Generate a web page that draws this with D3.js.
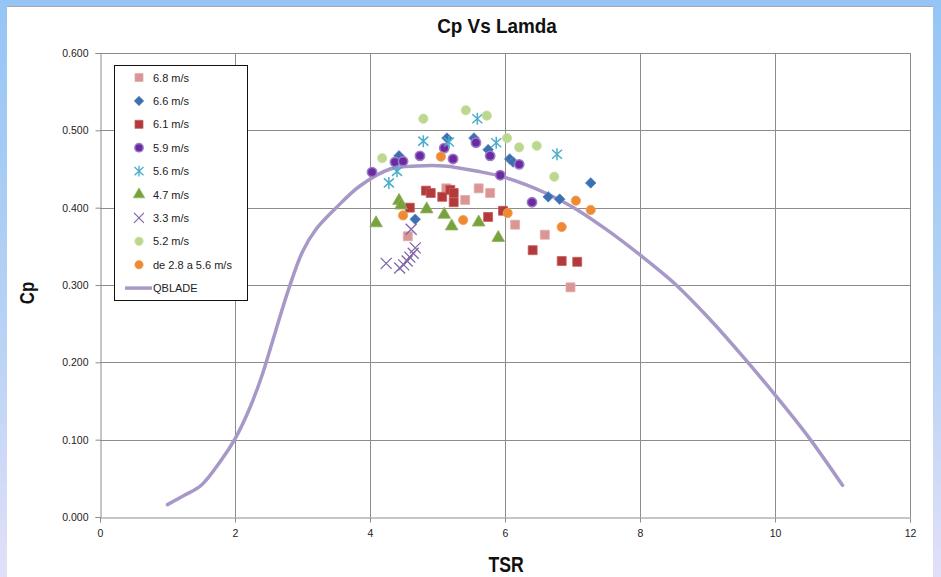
<!DOCTYPE html>
<html>
<head>
<meta charset="utf-8">
<script src="https://cdn.jsdelivr.net/npm/d3@7"></script>
<style>
  html, body { margin: 0; padding: 0; background: #fff; }
  svg { display: block; }
</style>
</head>
<body>
<svg id="chart" width="941" height="577"></svg>
<script>
// Measured Cp against tip-speed ratio for each wind speed
const ws68Tsr = [4.56, 5.13, 5.41, 5.61, 5.78, 6.15, 6.59, 6.97];
const ws68Cp  = [0.363, 0.425, 0.410, 0.425, 0.419, 0.378, 0.365, 0.297];

const ws66Tsr = [4.43, 5.14, 5.54, 5.75, 6.07, 6.12, 4.67, 6.64, 6.81, 7.27];
const ws66Cp  = [0.467, 0.490, 0.490, 0.475, 0.463, 0.459, 0.385, 0.414, 0.411, 0.432];

const ws61Tsr = [4.83, 4.90, 5.07, 5.19, 5.24, 5.24, 4.59, 5.75, 5.97, 6.41, 6.84, 7.07];
const ws61Cp  = [0.422, 0.419, 0.414, 0.423, 0.419, 0.407, 0.400, 0.388, 0.396, 0.345, 0.331, 0.330];

const ws59Tsr = [4.03, 4.37, 4.49, 4.74, 5.10, 5.23, 5.57, 5.78, 6.21, 5.93, 6.40];
const ws59Cp  = [0.446, 0.459, 0.460, 0.467, 0.477, 0.463, 0.484, 0.467, 0.456, 0.442, 0.407];

const ws56Tsr = [4.28, 4.40, 4.79, 5.17, 5.59, 5.87, 6.77];
const ws56Cp  = [0.432, 0.447, 0.486, 0.485, 0.515, 0.484, 0.469];

const ws47Tsr = [4.09, 4.43, 4.46, 4.84, 5.10, 5.21, 5.61, 5.90];
const ws47Cp  = [0.380, 0.409, 0.403, 0.398, 0.391, 0.376, 0.381, 0.361];

const ws33Tsr = [4.24, 4.44, 4.50, 4.55, 4.59, 4.64, 4.67, 4.61];
const ws33Cp  = [0.328, 0.322, 0.326, 0.331, 0.336, 0.341, 0.348, 0.372];

const ws52Tsr = [4.18, 4.79, 5.42, 5.73, 6.03, 6.21, 6.47, 6.73];
const ws52Cp  = [0.464, 0.515, 0.526, 0.519, 0.490, 0.478, 0.480, 0.440];

const wsRangeTsr = [4.49, 5.05, 5.38, 6.04, 6.84, 7.05, 7.27];
const wsRangeCp  = [0.390, 0.466, 0.384, 0.393, 0.375, 0.409, 0.397];

// QBlade simulated curve
const qbladeTsr = [1.0, 1.25, 1.5, 1.8, 2.0, 2.2, 2.4, 2.6, 2.8, 3.0, 3.2, 3.5, 3.85, 4.3, 4.7, 5.1, 5.6, 6.0, 6.6, 7.0, 7.5, 8.0, 8.5, 9.0, 9.5, 10.0, 10.5, 11.0];
const qbladeCp  = [0.016, 0.028, 0.041, 0.074, 0.101, 0.137, 0.183, 0.240, 0.296, 0.343, 0.372, 0.400, 0.428, 0.450, 0.454, 0.454, 0.447, 0.439, 0.419, 0.401, 0.372, 0.339, 0.303, 0.259, 0.210, 0.158, 0.103, 0.041];

// Axis ticks
const xTicks = [0, 2, 4, 6, 8, 10, 12];
const yTicks = [0, 0.1, 0.2, 0.3, 0.4, 0.5, 0.6];

const seriesNames = ["6.8 m/s", "6.6 m/s", "6.1 m/s", "5.9 m/s", "5.6 m/s", "4.7 m/s", "3.3 m/s", "5.2 m/s", "de 2.8 a 5.6 m/s"];

const svg = d3.select("#chart");
const W = 941, H = 577;
const plain = "'Liberation Sans', Arial, sans-serif";

// Window frame: light blue border with white panel
const defs = svg.append("defs");
const grad = defs.append("linearGradient").attr("id", "edge").attr("x1", 0).attr("y1", 0).attr("x2", 0).attr("y2", 1);
grad.append("stop").attr("offset", "0%").attr("stop-color", "#95c5f5");
grad.append("stop").attr("offset", "60%").attr("stop-color", "#b9d3f5");
grad.append("stop").attr("offset", "100%").attr("stop-color", "#e2e0f8");
svg.append("rect").attr("width", W).attr("height", H).attr("fill", "url(#edge)");
svg.append("rect").attr("x", 0).attr("y", 0).attr("width", W).attr("height", 6).attr("fill", "#95c5f5");
svg.append("rect").attr("x", 7).attr("y", 6).attr("width", 926).attr("height", H - 6).attr("fill", "#ffffff");
svg.append("line").attr("x1", 7).attr("x2", 933).attr("y1", 6.5).attr("y2", 6.5).attr("stroke", "#a8a8a8");

const x = d3.scaleLinear().domain([0, 12]).range([100, 910]);
const y = d3.scaleLinear().domain([0, 0.6]).range([517, 53]);

// Gridlines
const grid = svg.append("g");
grid.selectAll(".gx").data(xTicks.slice(1)).join("line")
  .attr("x1", d => Math.round(x(d)) + 0.5).attr("x2", d => Math.round(x(d)) + 0.5)
  .attr("y1", y(0.6)).attr("y2", y(0))
  .attr("stroke", "#8c8c8c").attr("stroke-width", 1);
grid.selectAll(".gy").data(yTicks.slice(1)).join("line")
  .attr("x1", x(0)).attr("x2", x(12))
  .attr("y1", d => Math.round(y(d)) + 0.5).attr("y2", d => Math.round(y(d)) + 0.5)
  .attr("stroke", "#8c8c8c").attr("stroke-width", 1);

// Axes
const xAxis = d3.axisBottom(x).tickValues(xTicks).tickSize(5).tickPadding(7).tickFormat(d3.format("d"));
const yAxis = d3.axisLeft(y).tickValues(yTicks).tickSize(5).tickPadding(7).tickFormat(d3.format(".3f"));
const gx = svg.append("g").attr("transform", "translate(0,517.5)").call(xAxis);
const gy = svg.append("g").attr("transform", "translate(100.5,0)").call(yAxis);
[gx, gy].forEach(g => {
  g.select(".domain").attr("stroke", "#8c8c8c");
  g.selectAll(".tick line").attr("stroke", "#8c8c8c");
  g.selectAll("text").attr("fill", "#222").style("font-family", plain).style("font-size", "10.5px");
});

// Titles (horizontally compressed bold text)
function condensedTitle(cx, cy, size, sx, rot, label) {
  svg.append("text")
    .attr("transform", `translate(${cx},${cy}) rotate(${rot}) scale(${sx},1)`)
    .attr("text-anchor", "middle")
    .style("font-family", plain).style("font-weight", "bold").style("font-size", size + "px")
    .attr("fill", "#111").text(label);
}
condensedTitle(497, 33, 21, 0.9, 0, "Cp Vs Lamda");
condensedTitle(506, 572, 22, 0.8, 0, "TSR");
condensedTitle(34, 293, 21, 0.8, -90, "Cp");

// Marker definitions
const sq = d3.symbol().type(d3.symbolSquare).size(80)();
const dia = d3.symbol().type(d3.symbolSquare).size(56)();
const circ = d3.symbol().type(d3.symbolCircle).size(68)();
const tri = d3.symbol().type(d3.symbolTriangle).size(70)();
const asterisk = "M0,-6L0,6M-5,-4.5L5,4.5M-5,4.5L5,-4.5";
const cross = "M-5.5,-5.5L5.5,5.5M-5.5,5.5L5.5,-5.5";

const styles = [
  { path: sq, fill: "#d99694", stroke: "#e3aaa8", sw: 0.8, rot: 0 },
  { path: dia, fill: "#3c6eb0", stroke: "#5b88c4", sw: 0.8, rot: 45 },
  { path: sq, fill: "#b3393a", stroke: "#c45a5a", sw: 0.8, rot: 0 },
  { path: circ, fill: "#6b2aa0", stroke: "#9c7cc8", sw: 1.6, rot: 0 },
  { path: asterisk, fill: "none", stroke: "#4aaecb", sw: 1.5, rot: 0 },
  { path: tri, fill: "#77a33d", stroke: "#8fb25a", sw: 0.8, rot: 0 },
  { path: cross, fill: "none", stroke: "#8166a8", sw: 1.3, rot: 0 },
  { path: circ, fill: "#bcd88f", stroke: "#c8df9f", sw: 0.8, rot: 0 },
  { path: circ, fill: "#ee8a32", stroke: "#f3a05a", sw: 0.8, rot: 0 }
];

const seriesTsr = [ws68Tsr, ws66Tsr, ws61Tsr, ws59Tsr, ws56Tsr, ws47Tsr, ws33Tsr, ws52Tsr, wsRangeTsr];
const seriesCp  = [ws68Cp, ws66Cp, ws61Cp, ws59Cp, ws56Cp, ws47Cp, ws33Cp, ws52Cp, wsRangeCp];

// QBlade curve drawn beneath the markers
const line = d3.line().x(d => x(d[0])).y(d => y(d[1])).curve(d3.curveCatmullRom.alpha(0.5));
svg.append("path").datum(d3.zip(qbladeTsr, qbladeCp))
  .attr("d", line).attr("fill", "none").attr("stroke", "#a898c8")
  .attr("stroke-width", 3.5).attr("stroke-linecap", "round").attr("stroke-linejoin", "round");

// Scatter markers
seriesNames.forEach((name, i) => {
  const st = styles[i];
  svg.append("g").selectAll("path").data(d3.zip(seriesTsr[i], seriesCp[i])).join("path")
    .attr("d", st.path)
    .attr("transform", d => `translate(${x(d[0])},${y(d[1])}) rotate(${st.rot})`)
    .attr("fill", st.fill).attr("stroke", st.stroke).attr("stroke-width", st.sw);
});

// Legend
const lg = svg.append("g");
lg.append("rect").attr("x", 114.5).attr("y", 65.5).attr("width", 133).attr("height", 235)
  .attr("fill", "#fff").attr("stroke", "#111").attr("stroke-width", 1);
const rowY = i => 77.5 + i * 23.4;
seriesNames.forEach((name, i) => {
  const st = styles[i];
  lg.append("path").attr("d", st.path)
    .attr("transform", `translate(139,${rowY(i)}) rotate(${st.rot}) scale(0.9)`)
    .attr("fill", st.fill).attr("stroke", st.stroke).attr("stroke-width", st.sw);
  lg.append("text").attr("x", 153).attr("y", rowY(i) + 4)
    .style("font-family", plain).style("font-size", "11px").attr("fill", "#222").text(name);
});
lg.append("line").attr("x1", 125).attr("x2", 152).attr("y1", rowY(9)).attr("y2", rowY(9))
  .attr("stroke", "#a898c8").attr("stroke-width", 3.5);
lg.append("text").attr("x", 153).attr("y", rowY(9) + 4)
  .style("font-family", plain).style("font-size", "11px").attr("fill", "#222").text("QBLADE");
</script>
</body>
</html>
